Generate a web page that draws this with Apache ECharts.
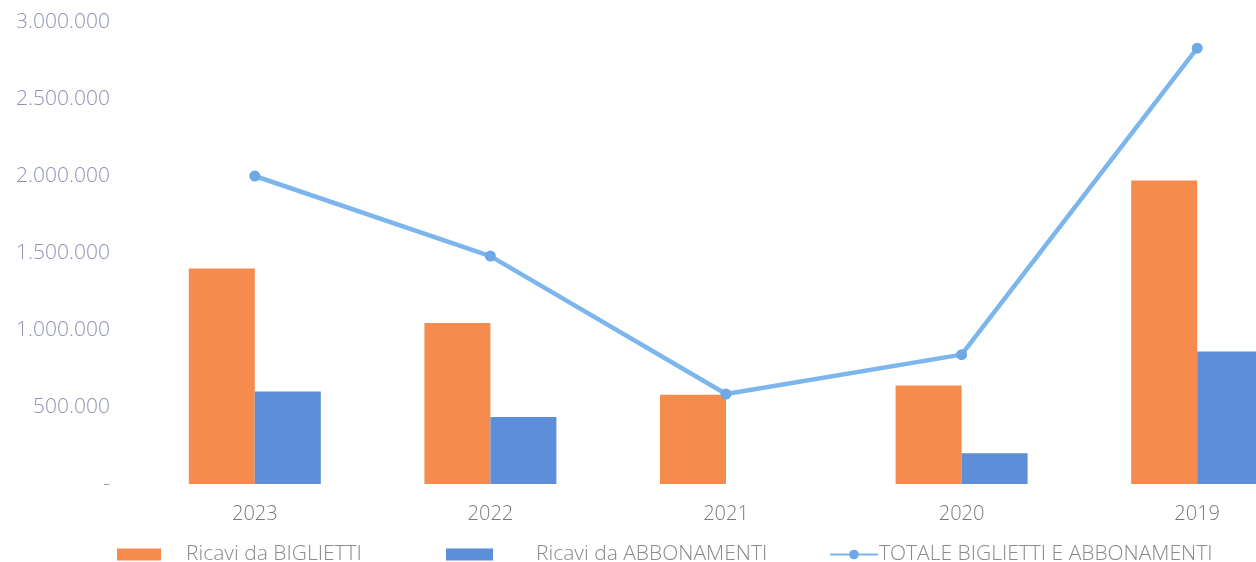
<!DOCTYPE html>
<html><head><meta charset="utf-8">
<script src="https://cdn.jsdelivr.net/npm/echarts@6/dist/echarts.min.js"></script>
<style>html,body{margin:0;padding:0;background:#fff}#c{width:1256px;height:562px}</style>
</head><body><div id="c"></div>
<script>
var categories = ['2023', '2022', '2021', '2020', '2019'];
var biglietti = [1400000, 1045000, 580000, 640000, 1970000];
var abbonamenti = [600000, 435000, 0, 200000, 860000];
var totale = [2000000, 1480000, 584000, 840000, 2830000];
var seriesNames = ['Ricavi da BIGLIETTI', 'Ricavi da ABBONAMENTI', 'TOTALE BIGLIETTI E ABBONAMENTI'];

function fmt(v){ if(v===0) return '-'; return String(v).replace(/\B(?=(\d{3})+(?!\d))/g,'.'); }

var legTxt = {color:'#8a8a8a', fontSize:21, fontWeight:300};
var chart = echarts.init(document.getElementById('c'));
chart.setOption({
  animation:false,
  textStyle:{fontFamily:'Open Sans'},
  grid:{left:137, width:1178, top:22, bottom:78, containLabel:false, outerBoundsMode:'none'},
  legend:[
    {left:112, top:539, itemWidth:44, itemHeight:12, textStyle:Object.assign({padding:[0,0,0,20]},legTxt),
      data:[{name:seriesNames[0], icon:'rect'}]},
    {left:441, top:539, itemWidth:47, itemHeight:12, textStyle:Object.assign({padding:[0,0,0,38]},legTxt),
      data:[{name:seriesNames[1], icon:'rect'}]},
    {left:824, top:539, itemWidth:48, itemHeight:12, itemStyle:{borderWidth:0}, textStyle:Object.assign({padding:[0,0,0,-4]},legTxt),
      data:[{name:seriesNames[2]}]}
  ],
  xAxis:{type:'category', data:categories, axisLine:{show:false}, axisTick:{show:false},
    axisLabel:{color:'#7a7a7a', fontSize:20, fontWeight:300, margin:20}},
  yAxis:{type:'value', min:0, max:3000000, interval:500000, splitLine:{show:false},
    axisLine:{show:false}, axisTick:{show:false},
    axisLabel:{color:'#8f93b3', fontSize:21, fontWeight:300, margin:27, formatter:fmt}},
  series:[
    {name:seriesNames[0], type:'bar', data:biglietti, barWidth:66, barGap:'0%', itemStyle:{color:'#f58b4c'}},
    {name:seriesNames[1], type:'bar', data:abbonamenti, barWidth:66, itemStyle:{color:'#5d8ed8'}},
    {name:seriesNames[2], type:'line', data:totale, symbol:'circle', symbolSize:11,
      lineStyle:{color:'#7db6ec', width:4.5}, itemStyle:{color:'#6fa8e6'}}
  ]
});
</script></body></html>
